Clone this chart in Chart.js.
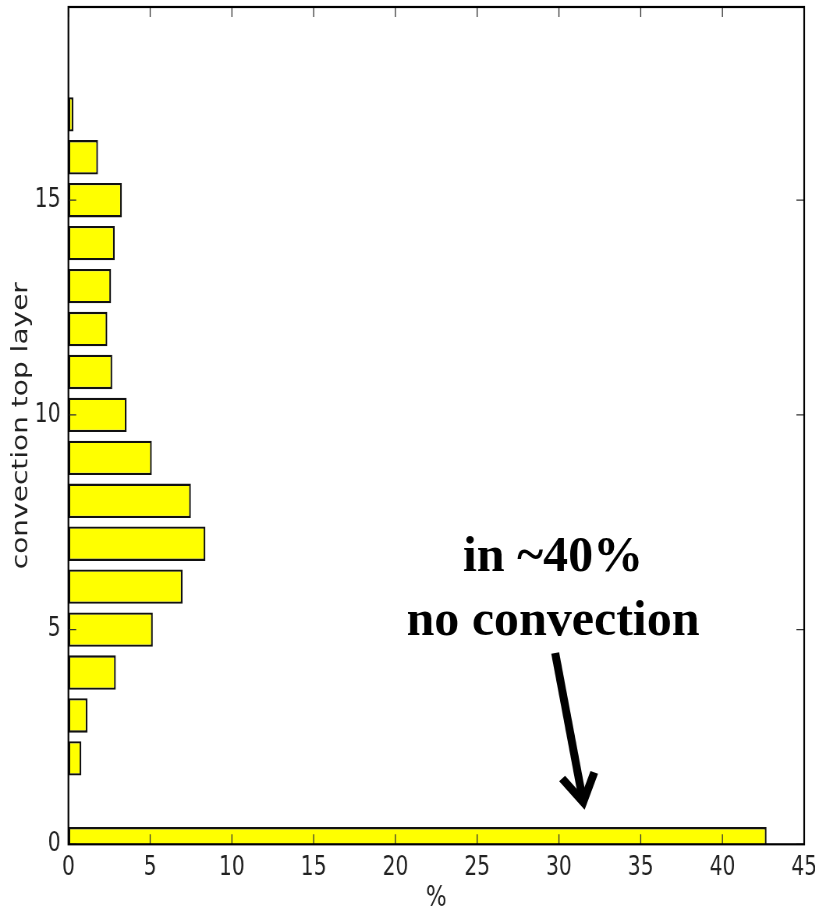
<!DOCTYPE html>
<html>
<head>
<meta charset="utf-8">
<title>Convection top layer</title>
<script src="https://cdn.jsdelivr.net/npm/chart.js@4/dist/chart.umd.min.js"></script>
<style>
  html, body { margin: 0; padding: 0; overflow: hidden; background: #fff; }
  #wrap { position: relative; width: 1045px; height: 910px; transform-origin: 0 0; }
</style>
</head>
<body>
<div id="wrap"><canvas id="chart"></canvas></div>
<script>
// Share of cases (%) by the layer where convection tops out; layer 0 = no convection
const layers  = [0, 1, 2, 3, 4, 5, 6, 7, 8, 9, 10, 11, 12, 13, 14, 15, 16, 17];
const percent = [42.7, 0, 0.79, 1.16, 2.9, 5.16, 6.98, 8.38, 7.49, 5.1, 3.56, 2.68, 2.38, 2.61, 2.83, 3.27, 1.81, 0.3];

const xTickValues = [0, 5, 10, 15, 20, 25, 30, 35, 40, 45];
const yTickValues = [0, 5, 10, 15];

const xTitle = '%';
const yTitle = 'convection top layer';
const noteLines = ['in ~40%', 'no convection'];

// The plot is laid out wide and squeezed horizontally onto the page
const SQUEEZE = 0.78;
document.getElementById('wrap').style.transform = 'scaleX(' + SQUEEZE + ')';

// note placement, in data units
const note = { x: 29.64, baselines: [6.36, 4.88], arrowFrom: [29.77, 4.455], arrowTo: [31.54, 0.869] };

const tickFont = { family: '"DejaVu Sans", sans-serif', size: 26 };

// Axes frame with inward tick marks on all four sides
const framePlugin = {
  id: 'frame',
  afterDatasetsDraw(chart) {
    const { ctx, chartArea: { left, right, top, bottom }, scales: { x, y } } = chart;
    ctx.save();
    ctx.strokeStyle = '#333';
    ctx.lineWidth = 1.3;
    ctx.beginPath();
    x.ticks.forEach(t => {
      const px = x.getPixelForValue(t.value);
      ctx.moveTo(px, bottom); ctx.lineTo(px, bottom - 10);
      ctx.moveTo(px, top); ctx.lineTo(px, top + 10);
    });
    y.ticks.forEach(t => {
      const py = y.getPixelForValue(t.value);
      ctx.moveTo(left, py); ctx.lineTo(left + 10, py);
      ctx.moveTo(right, py); ctx.lineTo(right - 10, py);
    });
    ctx.stroke();
    ctx.strokeStyle = '#000';
    ctx.lineWidth = 2.2;
    ctx.strokeRect(left, top, right - left, bottom - top);
    ctx.restore();
  }
};

// Bold caption and arrow pointing at the layer-0 bar, drawn unsqueezed
const notePlugin = {
  id: 'note',
  afterDraw(chart) {
    const { ctx, scales: { x, y } } = chart;
    const sx = v => x.getPixelForValue(v) * SQUEEZE;
    const sy = v => y.getPixelForValue(v);
    ctx.save();
    ctx.scale(1 / SQUEEZE, 1);
    ctx.fillStyle = '#000';
    ctx.font = 'bold 50px "Liberation Serif", "Times New Roman", serif';
    ctx.textAlign = 'center';
    ctx.textBaseline = 'alphabetic';
    noteLines.forEach((line, i) => ctx.fillText(line, sx(note.x), sy(note.baselines[i])));

    const x0 = sx(note.arrowFrom[0]), y0 = sy(note.arrowFrom[1]);
    const x1 = sx(note.arrowTo[0]), y1 = sy(note.arrowTo[1]);
    const len = Math.hypot(x1 - x0, y1 - y0);
    const ux = (x1 - x0) / len, uy = (y1 - y0) / len;
    const headLen = 36, ang = 27 * Math.PI / 180;
    const wing = s => {
      const c = Math.cos(s * ang), n = Math.sin(s * ang);
      return [x1 - headLen * (ux * c - uy * n), y1 - headLen * (ux * n + uy * c)];
    };
    ctx.strokeStyle = '#000';
    ctx.lineWidth = 8;
    ctx.lineCap = 'butt';
    ctx.lineJoin = 'miter';
    ctx.beginPath();
    ctx.moveTo(x0, y0);
    ctx.lineTo(x1 - ux * 6, y1 - uy * 6);
    ctx.stroke();
    const w1 = wing(1), w2 = wing(-1);
    ctx.beginPath();
    ctx.moveTo(w1[0], w1[1]);
    ctx.lineTo(x1 - ux * 5, y1 - uy * 5);
    ctx.lineTo(w2[0], w2[1]);
    ctx.stroke();
    ctx.restore();
  }
};

new Chart(document.getElementById('chart'), {
  type: 'bar',
  data: {
    datasets: [{
      data: layers.map((l, i) => ({ x: percent[i], y: l })),
      backgroundColor: '#ffff00',
      borderColor: '#111',
      borderWidth: 2.3,
      borderSkipped: false,
      barPercentage: 0.8,
      categoryPercentage: 1,
      clip: 0
    }]
  },
  options: {
    indexAxis: 'y',
    responsive: true,
    maintainAspectRatio: false,
    animation: false,
    events: [],
    layout: { padding: { left: 0, right: 14, top: 7, bottom: 0 } },
    plugins: { legend: { display: false }, tooltip: { enabled: false } },
    scales: {
      x: {
        type: 'linear',
        position: 'bottom',
        min: 0,
        max: 45,
        offset: false,
        grid: { display: false, drawTicks: false },
        border: { display: false },
        ticks: { font: tickFont, color: '#222', padding: 8, maxRotation: 0 },
        afterBuildTicks: s => { s.ticks = xTickValues.map(v => ({ value: v })); },
        afterFit: s => { s.height = 65.7; s.paddingLeft = 0; s.paddingRight = 0; },
        title: { display: true, text: xTitle, font: { family: '"DejaVu Sans", sans-serif', size: 28 }, color: '#222', padding: { top: 0, bottom: -6 } }
      },
      y: {
        type: 'linear',
        position: 'left',
        min: 0,
        max: 19.5,
        offset: false,
        grid: { display: false, drawTicks: false },
        border: { display: false },
        ticks: { font: tickFont, color: '#222', padding: 10 },
        afterBuildTicks: s => { s.ticks = yTickValues.map(v => ({ value: v })); },
        afterFit: s => { s.width = 87.7; s.paddingTop = 0; s.paddingBottom = 0; },
        title: { display: true, text: yTitle, font: { family: '"DejaVu Sans", sans-serif', size: 28 }, color: '#222', padding: { top: 11, bottom: 0 } }
      }
    }
  },
  plugins: [framePlugin, notePlugin]
});
</script>
</body>
</html>
